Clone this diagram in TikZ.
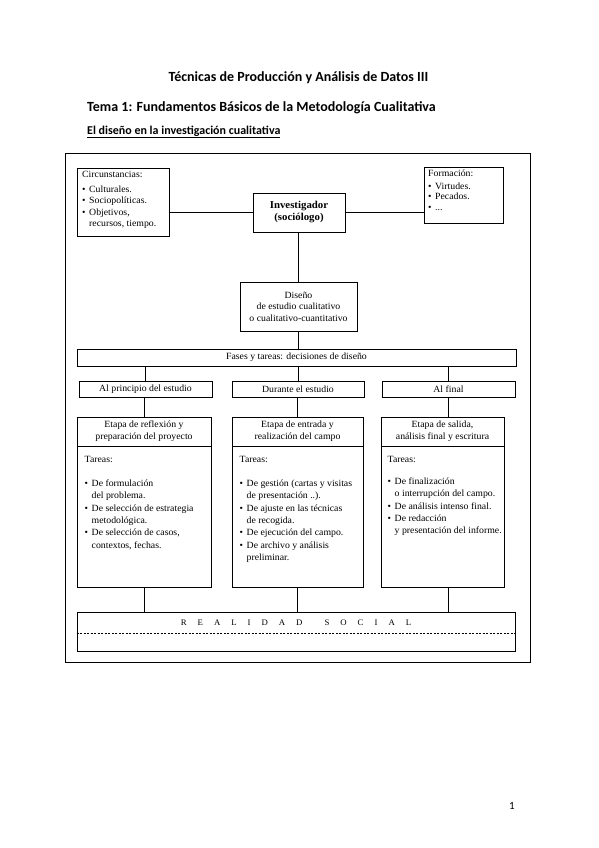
\documentclass[tikz,border=0pt]{standalone}
\usepackage{fontspec}
\setmainfont{Carlito}
\newfontfamily\dfont{Liberation Serif}[FakeStretch=1.03]
\newcommand{\dbul}{\makebox[7pt][l]{\textbullet}}
\newcommand{\dind}{\hspace*{7pt}}
\begin{document}
\begin{tikzpicture}[x=1pt,y=-1pt,
  box/.style={draw, line width=0.8pt, inner sep=0pt, align=center,
    font=\dfont\fontsize{9.5}{11.5}\selectfont},
  dtext/.style={inner sep=0pt, align=left, anchor=north west,
    font=\dfont\fontsize{9.5}{11.5}\selectfont},
  btext/.style={inner sep=0pt, align=left, anchor=north west,
    font=\dfont\fontsize{9.5}{12.4}\selectfont},
  conn/.style={line width=0.8pt}]
\useasboundingbox (0,0) rectangle (599,848);
% headings
\node[font=\bfseries\fontsize{14}{16}\selectfont] (title) at (298.5,78) {Técnicas de Producción y Análisis de Datos III};
\node[anchor=west, inner sep=0pt, font=\bfseries\fontsize{14}{16}\selectfont] (tema) at (87,108) {Tema 1: Fundamentos Básicos de la Metodología Cualitativa};
\node[anchor=west, inner sep=0pt, font=\bfseries\fontsize{12}{14}\selectfont] (sub) at (87,132) {\underline{El diseño en la investigación cualitativa}};
\node[font=\fontsize{11}{13}\selectfont] (pg) at (512,806) {1};
% outer frame
\draw[line width=1pt] (65,153) rectangle (530,662);
% top boxes
\node[box, minimum width=92, minimum height=68] (circ) at (123,202) {};
\node[dtext] (circT) at (82,171.5) {Circunstancias:\\[3pt]
  \dbul Culturales.\\
  \dbul Sociopolíticas.\\
  \dbul Objetivos,\\
  \dind recursos, tiempo.};
\node[box, minimum width=92, minimum height=39, font=\dfont\bfseries\fontsize{10.5}{12}\selectfont] (inv) at (299,212.5) {Investigador\\(sociólogo)};
\node[box, minimum width=79, minimum height=56] (form) at (463.5,195) {};
\node[dtext, font=\dfont\fontsize{9.5}{10.8}\selectfont] (formT) at (428,169.5) {Formación:\\[2pt]
  \dbul Virtudes.\\
  \dbul Pecados.\\
  \dbul ...};
\node[box, minimum width=117, minimum height=49] (dis) at (298.5,306.5) {Diseño\\de estudio cualitativo\\o cualitativo-cuantitativo};
% phases
\node[box, minimum width=439, minimum height=17] (fases) at (296.5,357.5) {Fases y tareas: decisiones de diseño};
\node[box, minimum width=133, minimum height=16] (c1) at (145.5,389) {Al principio del estudio};
\node[box, minimum width=132, minimum height=16] (c2) at (298,389) {Durante el estudio};
\node[box, minimum width=133, minimum height=16] (c3) at (448.5,389) {Al final};
% stage boxes
\node[box, minimum width=134, minimum height=29, font=\dfont\fontsize{9.5}{12}\selectfont] (e1h) at (144,431.5) {Etapa de reflexión y\\preparación del proyecto};
\node[box, minimum width=134, minimum height=141] (e1b) at (144,516.5) {};
\node[box, minimum width=131, minimum height=29, font=\dfont\fontsize{9.5}{12}\selectfont] (e2h) at (297.5,431.5) {Etapa de entrada y\\realización del campo};
\node[box, minimum width=131, minimum height=141] (e2b) at (297.5,516.5) {};
\node[box, minimum width=123, minimum height=29, font=\dfont\fontsize{9.5}{12}\selectfont] (e3h) at (442.5,431.5) {Etapa de salida,\\análisis final y escritura};
\node[box, minimum width=123, minimum height=141] (e3b) at (442.5,516.5) {};
\node[btext] (e1T) at (84.5,456.5) {Tareas:\\[11pt]
  \dbul De formulación\\
  \dind del problema.\\
  \dbul De selección de estrategia\\
  \dind metodológica.\\
  \dbul De selección de casos,\\
  \dind contextos, fechas.};
\node[btext] (e2T) at (239.5,456.5) {Tareas:\\[11pt]
  \dbul De gestión (cartas y visitas\\
  \dind de presentación ..).\\
  \dbul De ajuste en las técnicas\\
  \dind de recogida.\\
  \dbul De ejecución del campo.\\
  \dbul De archivo y análisis\\
  \dind preliminar.};
\node[btext] (e3T) at (387.5,456.5) {Tareas:\\[9pt]
  \dbul De finalización\\
  \dind o interrupción del campo.\\
  \dbul De análisis intenso final.\\
  \dbul De redacción\\
  \dind y presentación del informe.};
% social reality
\node[box, minimum width=438, minimum height=39] (real) at (296,631.5) {};
\node[inner sep=0pt, font=\dfont\fontsize{8.5}{10}\selectfont] (realT) at (296,623)
  {R\hspace{11pt}E\hspace{11pt}A\hspace{11pt}L\hspace{11pt}I\hspace{11pt}D\hspace{11pt}A\hspace{11pt}D\hspace{22pt}S\hspace{11pt}O\hspace{11pt}C\hspace{11pt}I\hspace{11pt}A\hspace{11pt}L};
\draw[line width=0.8pt, dash pattern=on 2.2pt off 1.3pt] ([yshift=-1.5pt]real.west) -- ([yshift=-1.5pt]real.east);
% connectors
\draw[conn] (inv.west) -- (inv.west -| circ.east);
\draw[conn] (inv.east) -- (inv.east -| form.west);
\draw[conn] (dis.north |- inv.south) -- (dis.north);
\draw[conn] (dis.south) -- (dis.south |- fases.north);
\draw[conn] (c1.north |- fases.south) -- (c1.north);
\draw[conn] (c2.north |- fases.south) -- (c2.north);
\draw[conn] (c3.north |- fases.south) -- (c3.north);
\draw[conn] (e1h.north |- c1.south) -- (e1h.north);
\draw[conn] (e2h.north |- c2.south) -- (e2h.north);
\draw[conn] (c3.south) -- (c3.south |- e3h.north);
\draw[conn] (e1b.south) -- (e1b.south |- real.north);
\draw[conn] (e2b.south) -- (e2b.south |- real.north);
\draw[conn] (c3.south |- e3b.south) -- (c3.south |- real.north);
\end{tikzpicture}
\end{document}
